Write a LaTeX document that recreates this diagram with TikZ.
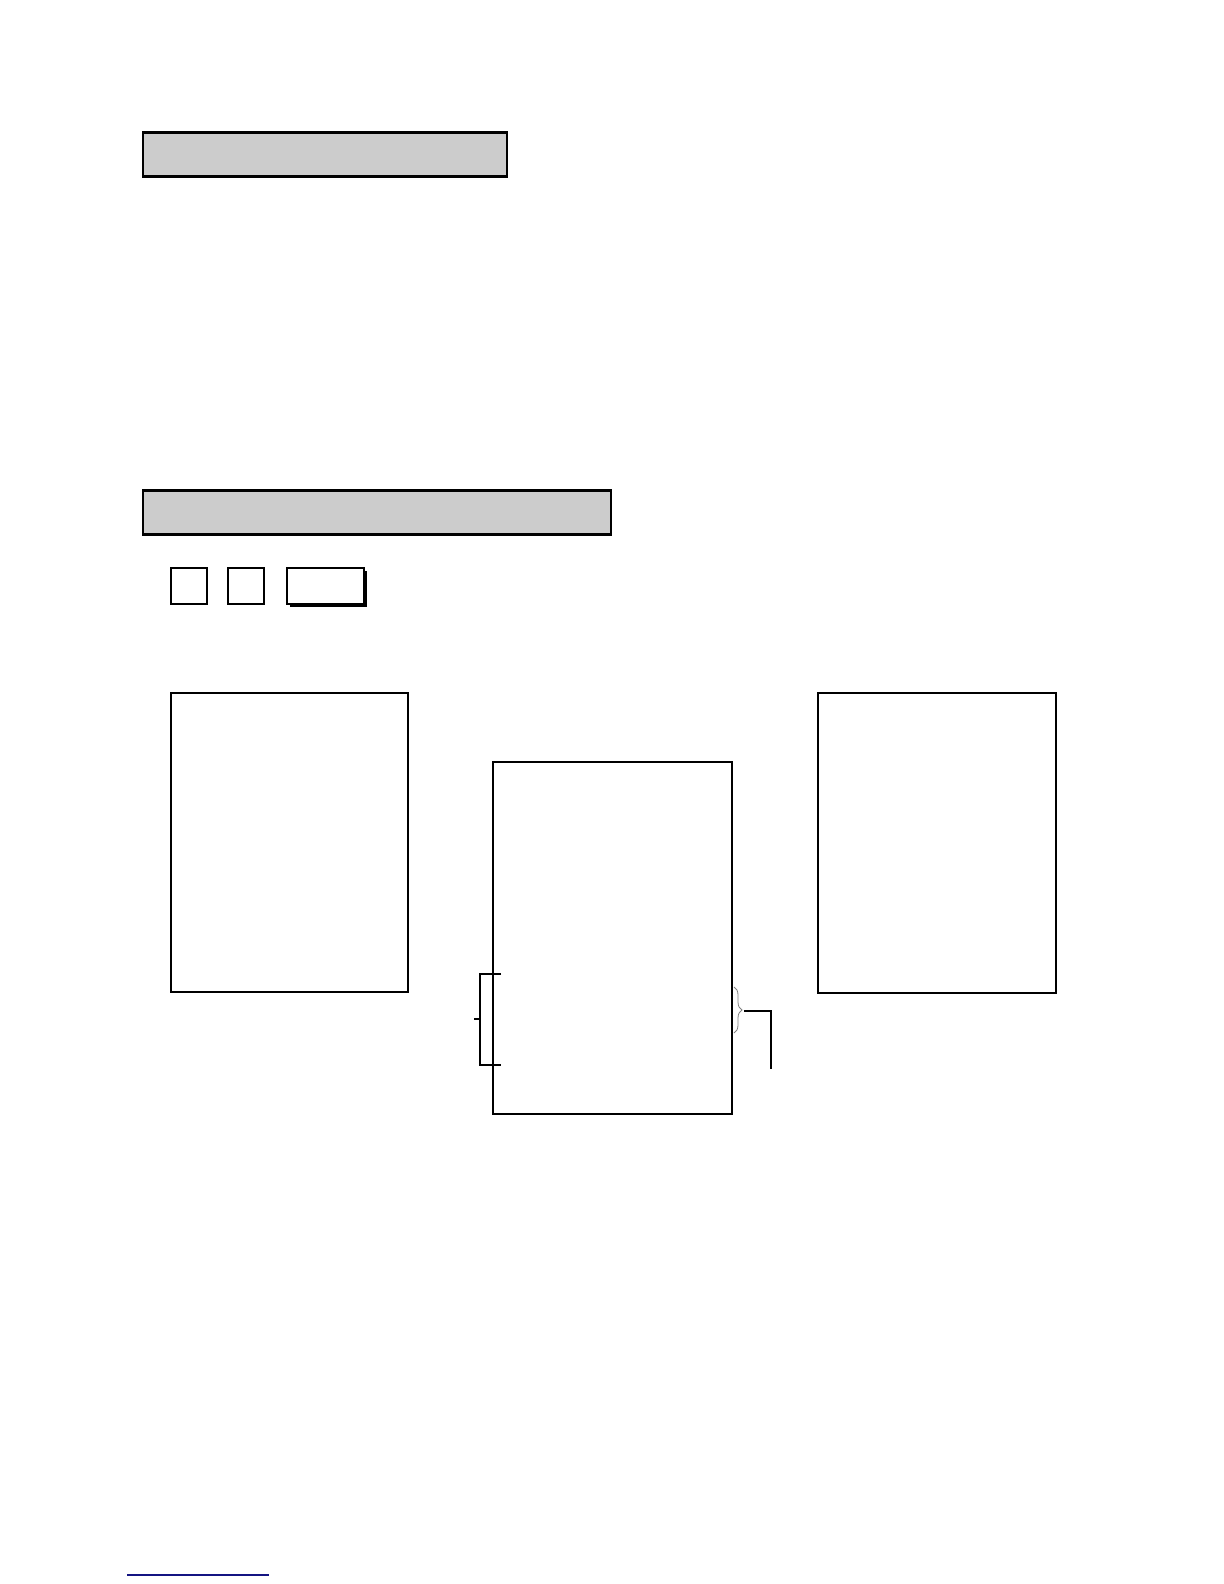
\documentclass[tikz,border=0pt]{standalone}
\usetikzlibrary{positioning,shadows,decorations.pathreplacing}
\definecolor{linknavy}{RGB}{20,20,130}
\begin{document}
\begin{tikzpicture}[x=0.5pt, y=-0.5pt,
        header/.style={draw, line width=1.1pt, fill=black!20, inner sep=0pt, outer sep=0pt, minimum height=22pt},
        keybox/.style={draw, line width=1pt, fill=white, inner sep=0pt, outer sep=0pt, minimum width=18pt, minimum height=18pt},
        panel/.style={draw, line width=1.1pt, inner sep=0pt, outer sep=0pt, minimum width=118.5pt}]
        \useasboundingbox (0,0) rectangle (1224,1584);

        \node[header, minimum width=182pt] (head1) at (325,154.5) {};
        \node[header, minimum width=234pt] (head2) at (377,512.5) {};

        \node[keybox] (key1) at (189,586) {};
        \node[keybox] (key2) at (246,586) {};
        \node[keybox, minimum width=38.5pt, drop shadow={shadow xshift=1.5pt, shadow yshift=-1.5pt, fill=black, opacity=1}] (key3) at (325.5,586) {};

        \node[panel, minimum height=149.5pt] (left) at (289.5,842.5) {};
        \node[panel, minimum width=119.5pt, minimum height=176pt] (mid) at (612.5,938) {};
        \node[panel, minimum width=119pt, minimum height=150pt] (right) at (937,843) {};

        \coordinate (btop) at (501,974);
        \coordinate (bbot) at (501,1065);
        \coordinate (bstub) at (474,1019);
        \draw[line width=0.7pt] (btop) -- (480,974) -- (480,1065) -- (bbot);
        \draw[line width=0.7pt] (bstub) -- (480,1019);

        \coordinate (brtop) at (734,987);
        \coordinate (brbot) at (734,1033);
        \coordinate (brtip) at (744,1011);
        \coordinate (lead) at (771,1069);
        \draw[gray, line width=0.4pt, decorate, decoration={brace, amplitude=4pt}] (brtop) -- (brbot);
        \draw[line width=0.7pt] (brtip) -| (lead);

        \coordinate (ul1) at (127,1575);
        \coordinate (ul2) at (269,1575);
        \draw[linknavy, line width=0.7pt] (ul1) -- (ul2);
\end{tikzpicture}
\end{document}
